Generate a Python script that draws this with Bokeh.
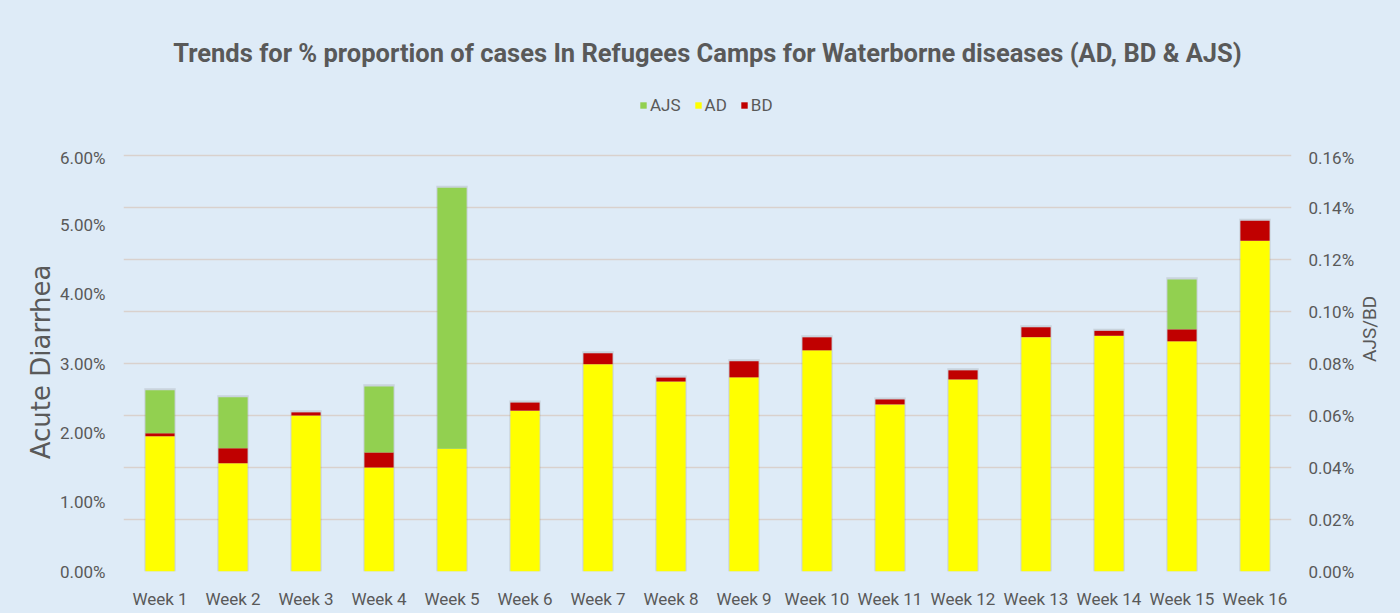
import math
from bokeh.plotting import figure
from bokeh.layouts import column
from bokeh.models import (ColumnDataSource, Range1d, LinearAxis, FactorRange,
                          FixedTicker, PrintfTickFormatter, Legend, LegendItem)
from bokeh.embed import file_html
from bokeh.resources import INLINE

# ---- data ----
weeks = ["Week 1", "Week 2", "Week 3", "Week 4", "Week 5", "Week 6", "Week 7", "Week 8",
         "Week 9", "Week 10", "Week 11", "Week 12", "Week 13", "Week 14", "Week 15", "Week 16"]
# Acute Diarrhea, % (left axis)
ad = [1.95, 1.56, 2.25, 1.50, 1.77, 2.32, 2.99, 2.74, 2.80, 3.19, 2.41, 2.77, 3.38, 3.40, 3.32, 4.77]
# Bloody Diarrhea, % (right axis)
bd = [0.0012, 0.0058, 0.0012, 0.0058, 0.0, 0.0031, 0.0042, 0.0015, 0.0062, 0.0050,
      0.0019, 0.0035, 0.0038, 0.0019, 0.0046, 0.0077]
# Acute Jaundice Syndrome, % (right axis)
ajs = [0.0165, 0.0196, 0.0, 0.0254, 0.1004, 0.0, 0.0, 0.0, 0.0, 0.0,
       0.0, 0.0, 0.0, 0.0, 0.0192, 0.0]
left_ticks = [0, 1, 2, 3, 4, 5, 6]
right_ticks = [0, 0.02, 0.04, 0.06, 0.08, 0.10, 0.12, 0.14, 0.16]
series_names = ["AJS", "AD", "BD"]
series_colors = ["#92D050", "#FFFF00", "#C00000"]

LEFT_MAX = 6.0
RIGHT_MAX = 0.16
k = LEFT_MAX / RIGHT_MAX  # right-axis units -> left-axis units

bd_top = [a + b * k for a, b in zip(ad, bd)]
ajs_top = [t + j * k for t, j in zip(bd_top, ajs)]

src = ColumnDataSource(dict(week=weeks, ad=ad, bd_top=bd_top, ajs_top=ajs_top,
                            shadow_top=[t + 0.03 for t in ajs_top]))

BG = "#DEEBF7"
TXT = "#595959"
FONT = "Roboto"
W = 1400
HEADER_H = 147
MAIN_H = 613 - HEADER_H
GRID_PX = 416          # pixel height of the 0..6 % span
TOP_PAD = 3            # small headroom so the top grid line is fully drawn
extend = (GRID_PX + TOP_PAD) / GRID_PX

x_range = FactorRange(*weeks)
x_range.range_padding = 0

# ---------------- header: title + legend ----------------
hdr = figure(width=W, height=HEADER_H, output_backend="svg", toolbar_location=None,
             x_range=x_range, y_range=Range1d(LEFT_MAX * 2, LEFT_MAX * 3),
             x_axis_location=None, y_axis_location=None,
             min_border_left=0, min_border_right=0, min_border_top=75, min_border_bottom=0)
hdr.background_fill_color = None
hdr.border_fill_color = BG
hdr.outline_line_color = None
hdr.xgrid.grid_line_color = None
hdr.ygrid.grid_line_color = None

hdr.title.text = "Trends for % proportion of cases In Refugees Camps for Waterborne diseases (AD, BD & AJS)"
hdr.title.align = "center"
hdr.title.text_font = FONT
hdr.title.text_font_size = "25.5px"
hdr.title.text_font_style = "bold"
hdr.title.text_color = TXT
hdr.title.standoff = 16

# legend keys: same series, drawn in the header where they fall outside its value range
key_tops = ["ajs_top", "ad", "bd_top"]
key_renderers = [hdr.vbar(x="week", top=t, width=0.4, source=src, fill_color=c, line_color=None)
                 for t, c in zip(key_tops, series_colors)]
legend = Legend(items=[LegendItem(label=n, renderers=[r]) for n, r in zip(series_names, key_renderers)],
                orientation="horizontal", location=(516, 32),
                glyph_width=8, glyph_height=8, label_standoff=3, spacing=13,
                label_height=20, padding=0, margin=0,
                label_text_font=FONT, label_text_font_size="17px",
                label_text_color=TXT, background_fill_alpha=0, border_line_color=None)
hdr.add_layout(legend, "center")

# ---------------- main chart ----------------
p = figure(x_range=x_range, y_range=Range1d(0, LEFT_MAX * extend),
           width=W, height=MAIN_H, output_backend="svg", toolbar_location=None,
           title_location=None,
           min_border_left=123, min_border_right=109, min_border_top=8 - TOP_PAD,
           min_border_bottom=42)
p.background_fill_color = BG
p.border_fill_color = BG
p.outline_line_color = None

p.extra_y_ranges = {"right": Range1d(0, RIGHT_MAX * extend)}

# soft shadow behind the bars
p.vbar(x="week", width=0.43, bottom=0, top="shadow_top", source=src,
       fill_color="#7f7f7f", fill_alpha=0.22, line_color=None)

p.vbar(x="week", width=0.4, bottom=0, top="ad", source=src,
       fill_color=series_colors[1], line_color=None)
p.vbar(x="week", width=0.4, bottom="ad", top="bd_top", source=src,
       fill_color=series_colors[2], line_color=None)
p.vbar(x="week", width=0.4, bottom="bd_top", top="ajs_top", source=src,
       fill_color=series_colors[0], line_color=None)

# grid follows right-axis ticks
p.xgrid.grid_line_color = None
p.ygrid.ticker = FixedTicker(ticks=[t * k for t in right_ticks])
p.ygrid.grid_line_color = "#D9D1CD"
p.ygrid.grid_line_width = 1.5

# left axis
ly = p.yaxis[0]
ly.ticker = FixedTicker(ticks=left_ticks)
ly.formatter = PrintfTickFormatter(format="%.2f%%")
ly.axis_label = "Acute Diarrhea"
ly.axis_label_text_font = "DejaVu Sans"
ly.axis_label_text_font_size = "26px"
ly.axis_label_text_font_style = "normal"
ly.axis_label_text_color = TXT
ly.axis_label_standoff = 1
ly.major_label_standoff = 18

# right axis
ry = LinearAxis(y_range_name="right", ticker=FixedTicker(ticks=right_ticks),
                formatter=PrintfTickFormatter(format="%.2f%%"), axis_label="AJS/BD")
p.add_layout(ry, "right")
ry.axis_label_text_font = FONT
ry.axis_label_text_font_size = "19px"
ry.axis_label_text_font_style = "normal"
ry.axis_label_text_color = TXT
ry.axis_label_standoff = 12
ry.major_label_standoff = 17
if "axis_label_orientation" in ry.properties():
    ry.axis_label_orientation = math.pi / 2

for ax in (ly, ry, p.xaxis[0]):
    ax.axis_line_color = None
    ax.major_tick_line_color = None
    ax.minor_tick_line_color = None
    ax.major_tick_out = 0
    ax.major_tick_in = 0
    ax.minor_tick_out = 0
    ax.major_label_text_font = FONT
    ax.major_label_text_font_size = "17px"
    ax.major_label_text_color = TXT

p.xaxis[0].major_label_standoff = 17

layout = column(hdr, p, spacing=0, styles={"background-color": BG})
open("out.html", "w").write(file_html(layout, INLINE))
